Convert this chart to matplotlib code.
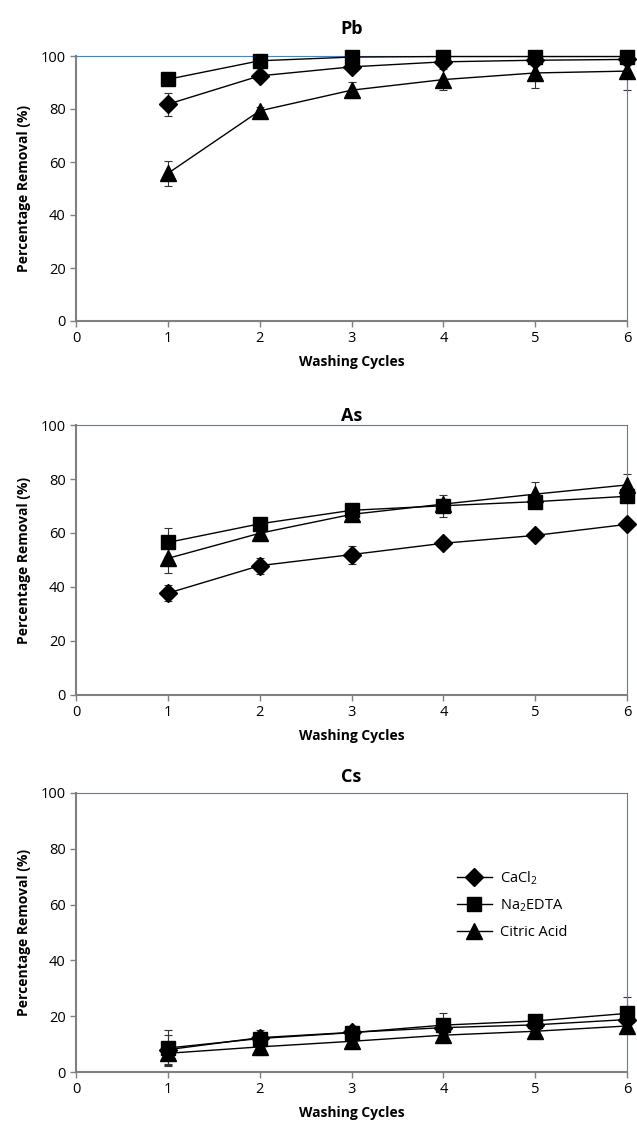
import numpy as np
import matplotlib
matplotlib.use("Agg")
import matplotlib.pyplot as plt

plt.rcParams['font.family'] = ['Open Sans', 'DejaVu Sans']
plt.rcParams['mathtext.default'] = 'regular'

cycles = [1, 2, 3, 4, 5, 6]
series_names = ['CaCl$_2$', 'Na$_2$EDTA', 'Citric Acid']

# Pb
pb_cacl2 = [81.8, 92.5, 95.9, 97.8, 98.4, 98.7]
pb_edta = [91.2, 98.2, 99.6, 99.8, 99.8, 99.8]
pb_citric = [55.7, 79.3, 87.1, 91.1, 93.6, 94.3]
pb_cacl2_err = [4.3, 1.0, 1.0, 1.0, 0.5, 0.5]
pb_edta_err = [1.0, 0.5, 0.5, 0.3, 0.3, 0.3]
pb_citric_err = [4.7, 1.5, 3.0, 4.0, 5.5, 7.0]

# As
as_cacl2 = [37.7, 47.9, 52.0, 56.2, 59.1, 63.2]
as_edta = [56.5, 63.4, 68.4, 70.1, 71.6, 73.6]
as_citric = [50.6, 59.9, 66.9, 70.7, 74.4, 77.8]
as_cacl2_err = [3.0, 3.0, 3.3, 1.0, 1.0, 1.0]
as_edta_err = [5.5, 1.0, 1.5, 4.0, 1.0, 1.0]
as_citric_err = [5.3, 1.0, 2.0, 2.0, 4.6, 4.2]

# Cs
cs_cacl2 = [8.0, 12.3, 14.2, 15.9, 16.9, 18.8]
cs_edta = [8.6, 12.0, 14.1, 16.8, 18.3, 21.0]
cs_citric = [6.7, 9.0, 11.0, 13.2, 14.6, 16.5]
cs_cacl2_err = [5.3, 1.0, 1.0, 1.0, 1.0, 1.0]
cs_edta_err = [6.5, 3.0, 1.0, 4.5, 1.0, 6.0]
cs_citric_err = [4.2, 3.0, 2.7, 1.5, 1.5, 1.5]

panels = [
    ('Pb', [pb_cacl2, pb_edta, pb_citric], [pb_cacl2_err, pb_edta_err, pb_citric_err]),
    ('As', [as_cacl2, as_edta, as_citric], [as_cacl2_err, as_edta_err, as_citric_err]),
    ('Cs', [cs_cacl2, cs_edta, cs_citric], [cs_cacl2_err, cs_edta_err, cs_citric_err]),
]

W, H = 637, 1121
fig = plt.figure(figsize=(W / 100, H / 100), dpi=100)

# axes boxes in pixels: (top, bottom)
boxes = [(56, 321), (425, 695), (793, 1072)]
title_pads = [16, 3, 8]
left_px, right_px = 76, 627

markers = ['D', 's', '^']
msizes = [9, 10, 11]
gray = '#808080'
blue = '#4f81bd'

for (name, ys, errs), (top, bot), tpad in zip(panels, boxes, title_pads):
    ax = fig.add_axes([left_px / W, 1 - bot / H, (right_px - left_px) / W, (bot - top) / H])
    for y, e, m, ms, lab in zip(ys, errs, markers, msizes, series_names):
        eb = ax.errorbar(cycles, y, yerr=e, fmt='none', ecolor='#333333',
                         elinewidth=0.8, capsize=3, capthick=0.8, zorder=2)
        for art in eb.lines[1] + eb.lines[2]:
            art.set_clip_on(False)
        ax.plot(cycles, y, color='black', lw=1, marker=m, ms=ms,
                mfc='black', mec='black', label=lab, zorder=3, clip_on=False)
    ax.set_xlim(0, 6)
    ax.set_ylim(0, 100)
    ax.set_xticks(range(7))
    ax.set_yticks(range(0, 101, 20))
    ax.spines['left'].set_color(gray)
    ax.spines['bottom'].set_color(gray)
    ax.spines['left'].set_linewidth(1.5)
    ax.spines['bottom'].set_linewidth(1.5)
    ax.spines['top'].set_color(blue)
    ax.spines['right'].set_color(blue)
    ax.tick_params(axis='both', colors=gray, labelcolor='black', labelsize=10.5,
                   direction='out', length=4, width=1)
    ax.set_xlabel('Washing Cycles', fontsize=10, fontweight='bold', labelpad=6)
    ax.set_ylabel('Percentage Removal (%)', fontsize=10, fontweight='bold', labelpad=7)
    ax.set_title(name, fontsize=13, fontweight='bold', pad=tpad)
    if name == 'Cs':
        ax.legend(loc='center left', bbox_to_anchor=(0.68, 0.60), frameon=False,
                  fontsize=10.5, handlelength=2.4, labelspacing=0.75,
                  handletextpad=0.6, borderaxespad=0)

fig.savefig('out.png', dpi=100)
